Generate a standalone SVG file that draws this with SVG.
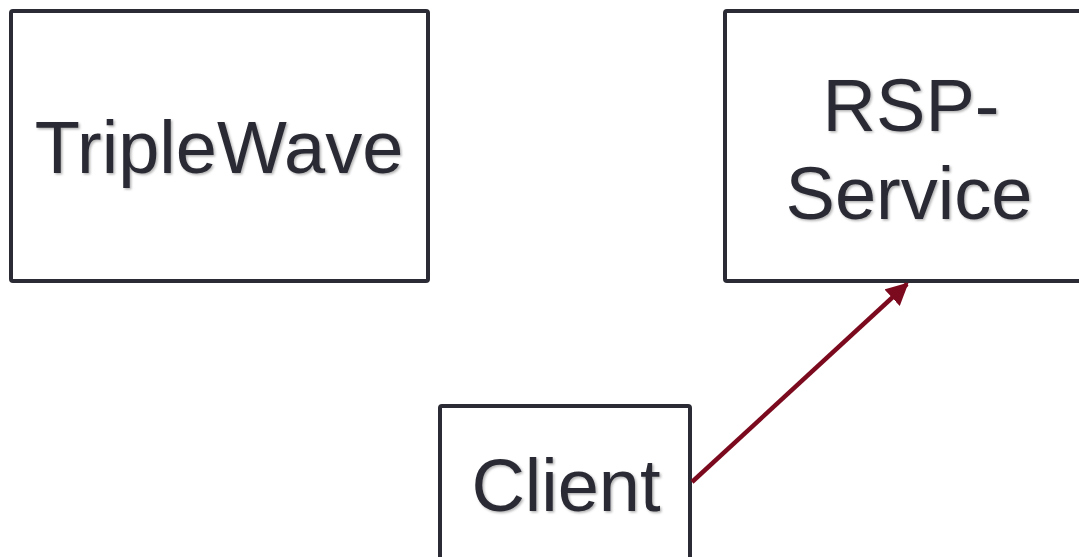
<svg xmlns="http://www.w3.org/2000/svg" width="1079" height="557" viewBox="0 0 1079 557">
<style>
.box{fill:#fff;stroke:#2b2b35;stroke-width:4}
.lbl{font-family:"Liberation Sans",Arial,sans-serif;font-size:74px;fill:#2b2b35;text-anchor:middle;filter:url(#sh)}
.conn{stroke:#7c0a1e;stroke-width:4.5;fill:none}
</style>
<defs>
<filter id="sh" x="-10%" y="-20%" width="120%" height="140%">
<feDropShadow dx="1.5" dy="1.5" stdDeviation="1" flood-color="#000" flood-opacity="0.3"/>
</filter>
<marker id="ah" viewBox="0 0 10 10" refX="9" refY="5" markerWidth="5" markerHeight="5" orient="auto" markerUnits="strokeWidth">
<path d="M0,0 L10,5 L0,10 z" fill="#7c0a1e"/>
</marker>
</defs>
<rect width="1079" height="557" fill="#fff"/>
<g id="triplewave">
<rect class="box" x="11" y="11" width="417" height="270" rx="2"/>
<text class="lbl" x="219" y="173">TripleWave</text>
</g>
<g id="rsp-service">
<rect class="box" x="725" y="11" width="370" height="270" rx="2"/>
<text class="lbl" x="911" y="131">RSP-</text>
<text class="lbl" x="909" y="219">Service</text>
</g>
<g id="client">
<rect class="box" x="440" y="406" width="250" height="170" rx="2"/>
<text class="lbl" x="566" y="511">Client</text>
</g>
<g id="connectors">
<line class="conn" x1="692" y1="482" x2="907" y2="284" marker-end="url(#ah)"/>
</g>
</svg>
